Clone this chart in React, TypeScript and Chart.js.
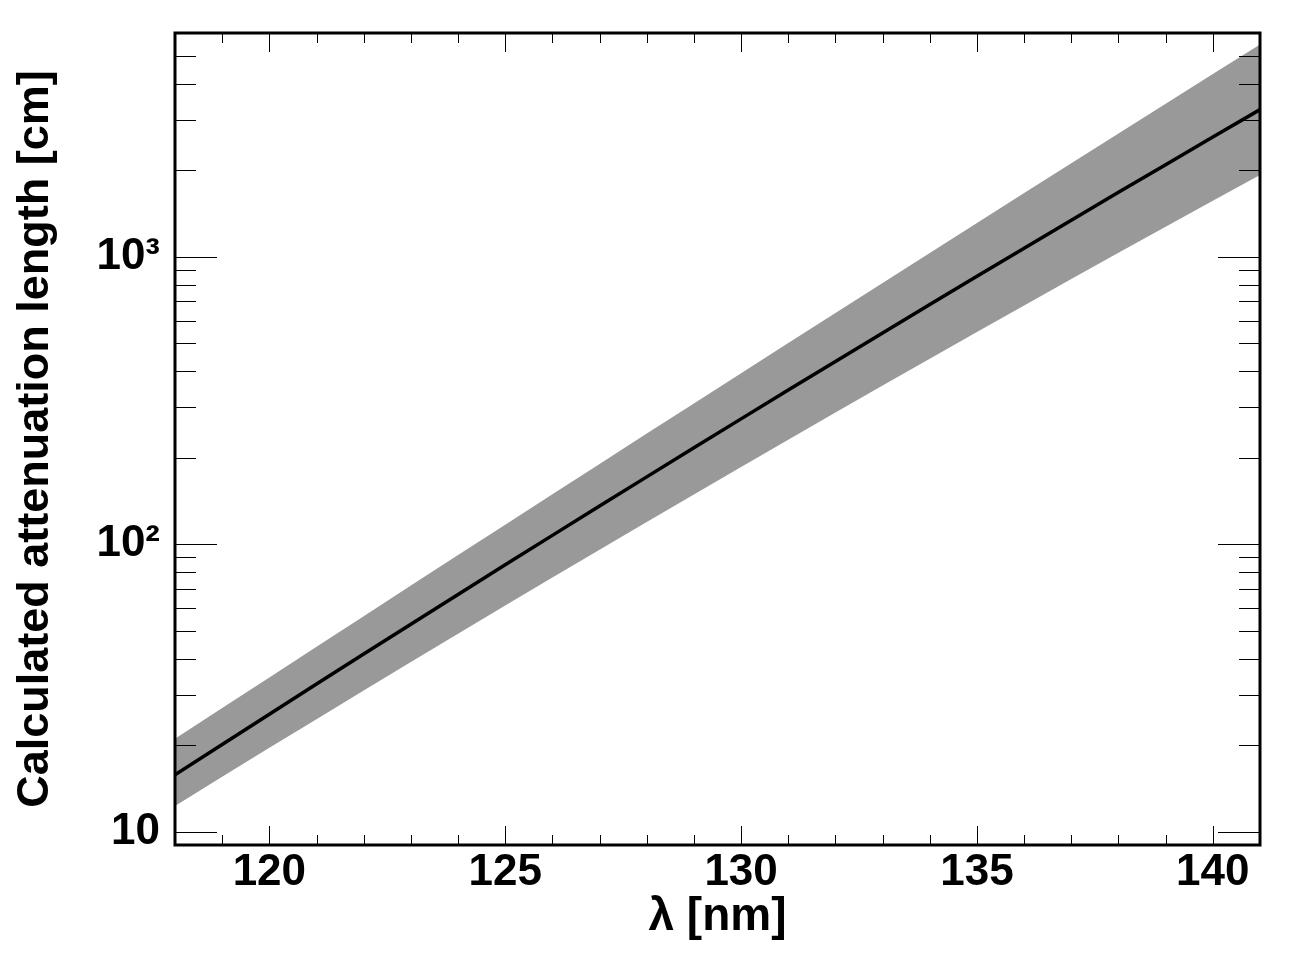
import React, { useEffect, useRef } from "react";
import { Chart, registerables } from "chart.js";

Chart.register(...registerables);

// Wavelength grid [nm]
const wavelengths = [
  118, 119, 120, 121, 122, 123, 124, 125, 126, 127, 128, 129,
  130, 131, 132, 133, 134, 135, 136, 137, 138, 139, 140, 141,
];

// Calculated attenuation length [cm] – central curve
const attenuationCentral = [
  15.8, 20.13, 25.65, 32.65, 41.51, 52.74, 66.92, 84.83, 107.4, 135.8, 171.6, 216.6,
  273.0, 343.8, 432.5, 543.4, 682.2, 855.2, 1071, 1340, 1675, 2091, 2609, 3249,
];

// Upper edge of the uncertainty band
const attenuationUpper = [
  21.06, 26.94, 34.44, 44.02, 56.26, 71.83, 91.7, 117.0, 149.3, 190.3, 242.6, 309.0,
  393.6, 501.0, 637.5, 810.8, 1031, 1310, 1665, 2114, 2684, 3405, 4319, 5476,
];

// Lower edge of the uncertainty band
const attenuationLower = [
  12.31, 15.54, 19.59, 24.66, 31.0, 38.95, 48.87, 61.23, 76.62, 95.78, 119.6, 149.1,
  185.8, 231.1, 287.2, 356.5, 442.0, 547.2, 676.9, 836.2, 1032, 1272, 1565, 1925,
];

// Axis ticks
const xMajorTicks = [120, 125, 130, 135, 140];
const xMinorTicks = [
  118, 119, 121, 122, 123, 124, 126, 127, 128, 129, 131, 132, 133, 134,
  136, 137, 138, 139, 141,
];
const yMajorTicks = [10, 100, 1000];
const yMajorLabels = ["10", "10\u00B2", "10\u00B3"];
const yMinorTicks = [
  20, 30, 40, 50, 60, 70, 80, 90,
  200, 300, 400, 500, 600, 700, 800, 900,
  2000, 3000, 4000, 5000,
];

const xTitle = "\u03BB [nm]";
const yTitle = "Calculated attenuation length [cm]";

const FONT = "'Liberation Sans', Arial, Helvetica, sans-serif";

const framePlugin = {
  id: "rootFrame",
  afterDatasetsDraw(chart: any) {
    const { ctx, chartArea, scales } = chart;
    const { left, right, top, bottom } = chartArea;
    const xs = scales.x;
    const ys = scales.y;
    ctx.save();
    ctx.strokeStyle = "#000";
    ctx.lineWidth = 1;
    ctx.beginPath();
    const xTick = (v: number, len: number) => {
      const px = Math.round(xs.getPixelForValue(v)) + 0.5;
      ctx.moveTo(px, bottom);
      ctx.lineTo(px, bottom - len);
      ctx.moveTo(px, top);
      ctx.lineTo(px, top + len);
    };
    const yTick = (v: number, len: number) => {
      const py = Math.round(ys.getPixelForValue(v)) + 0.5;
      ctx.moveTo(left, py);
      ctx.lineTo(left + len, py);
      ctx.moveTo(right, py);
      ctx.lineTo(right - len, py);
    };
    xMajorTicks.forEach((v) => xTick(v, 19));
    xMinorTicks.forEach((v) => xTick(v, 10));
    yMajorTicks.forEach((v) => yTick(v, 42));
    yMinorTicks.forEach((v) => yTick(v, 21));
    ctx.stroke();
    ctx.lineWidth = 3;
    ctx.strokeRect(left, top, right - left, bottom - top);
    ctx.restore();
  },
};

export default function App() {
  const canvasRef = useRef<HTMLCanvasElement | null>(null);

  useEffect(() => {
    document.body.style.margin = "0";
    const canvas = canvasRef.current;
    if (!canvas) return;

    const chart = new Chart(canvas, {
      type: "line",
      data: {
        datasets: [
          {
            label: "central",
            data: wavelengths.map((x, i) => ({ x, y: attenuationCentral[i] })),
            borderWidth: 3.5,
            borderColor: "#000000",
            fill: false,
            pointRadius: 0,
            tension: 0,
          },
          {
            label: "upper",
            data: wavelengths.map((x, i) => ({ x, y: attenuationUpper[i] })),
            borderWidth: 0,
            borderColor: "rgba(0,0,0,0)",
            backgroundColor: "#999999",
            fill: "+1",
            pointRadius: 0,
            tension: 0,
          },
          {
            label: "lower",
            data: wavelengths.map((x, i) => ({ x, y: attenuationLower[i] })),
            borderWidth: 0,
            borderColor: "rgba(0,0,0,0)",
            fill: false,
            pointRadius: 0,
            tension: 0,
          },
        ],
      },
      options: {
        animation: false,
        responsive: false,
        maintainAspectRatio: false,
        layout: { padding: { left: 0, top: 33, right: 29, bottom: 0 } },
        plugins: {
          legend: { display: false },
          tooltip: { enabled: false },
          title: { display: false },
        },
        scales: {
          x: {
            type: "linear",
            min: 118,
            max: 141,
            grid: { display: false, drawTicks: false },
            border: { display: false },
            afterBuildTicks: (s: any) => {
              s.ticks = xMajorTicks.map((v) => ({ value: v }));
            },
            afterFit: (s: any) => {
              s.height = 122;
              s.paddingLeft = 0;
              s.paddingRight = 0;
            },
            ticks: {
              color: "#000",
              font: { family: FONT, weight: "bold", size: 44 },
              padding: 1,
              maxRotation: 0,
              autoSkip: false,
              callback: (v: any) => String(v),
            },
            title: {
              display: true,
              text: xTitle,
              color: "#000",
              font: { family: FONT, weight: "bold", size: 46 },
              padding: { top: 0, bottom: 22 },
            },
          },
          y: {
            type: "logarithmic",
            min: 9,
            max: 6000,
            grid: { display: false, drawTicks: false },
            border: { display: false },
            afterBuildTicks: (s: any) => {
              s.ticks = yMajorTicks.map((v) => ({ value: v }));
            },
            afterFit: (s: any) => {
              s.width = 175;
              s.paddingTop = 0;
              s.paddingBottom = 0;
            },
            ticks: {
              color: "#000",
              font: { family: FONT, weight: "bold", size: 44 },
              padding: 15,
              autoSkip: false,
              callback: (v: any) => {
                const i = yMajorTicks.indexOf(Number(v));
                return i >= 0 ? yMajorLabels[i] : "";
              },
            },
            title: {
              display: true,
              text: yTitle,
              color: "#000",
              font: { family: FONT, weight: "bold", size: 45 },
              padding: { top: 9, bottom: 0 },
            },
          },
        },
      },
      plugins: [framePlugin],
    } as any);

    return () => {
      chart.destroy();
    };
  }, []);

  return (
    <div style={{ width: 1289, height: 967, background: "#fff" }}>
      <canvas
        ref={canvasRef}
        width={1289}
        height={967}
        style={{ display: "block", width: 1289, height: 967 }}
      />
    </div>
  );
}
